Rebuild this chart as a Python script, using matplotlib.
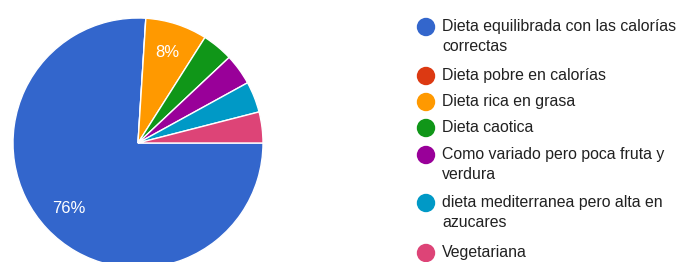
import matplotlib.pyplot as plt
from matplotlib.patches import Circle

labels = [
    "Dieta equilibrada con las calorías\ncorrectas",
    "Dieta pobre en calorías",
    "Dieta rica en grasa",
    "Dieta caotica",
    "Como variado pero poca fruta y\nverdura",
    "dieta mediterranea pero alta en\nazucares",
    "Vegetariana",
]
counts = [19, 0, 2, 1, 1, 1, 1]
colors = ["#3366cc", "#dc3912", "#ff9900", "#109618", "#990099", "#0099c6", "#dd4477"]

plt.rcParams['font.family'] = ['Liberation Sans', 'DejaVu Sans']

W, H = 688, 262
fig = plt.figure(figsize=(W / 100, H / 100), dpi=100)
ax = fig.add_axes([0, 0, 1, 1])
ax.axis('off')


def pct(p):
    return f"{p:.0f}%" if p > 5 else ""


wedges, texts, autotexts = ax.pie(
    counts, colors=colors, center=(138, H - 143), radius=125,
    startangle=0, counterclock=False, autopct=pct, pctdistance=0.76,
    wedgeprops=dict(edgecolor="white", linewidth=1),
    textprops=dict(color="white", fontsize=12),
)
ax.set_xlim(0, W)
ax.set_ylim(0, H)
ax.set_aspect('equal')

# legend drawn by hand
row_y = [27, 76, 102, 128, 155, 203, 253]
for lab, col, y in zip(labels, colors, row_y):
    ax.add_patch(Circle((426, H - y), 8.5, color=col, zorder=3))
    ax.text(442, H - y + 8, lab, fontsize=11.4, color="#212121",
            va="top", ha="left", linespacing=1.42)

fig.savefig("out.png", dpi=100)
